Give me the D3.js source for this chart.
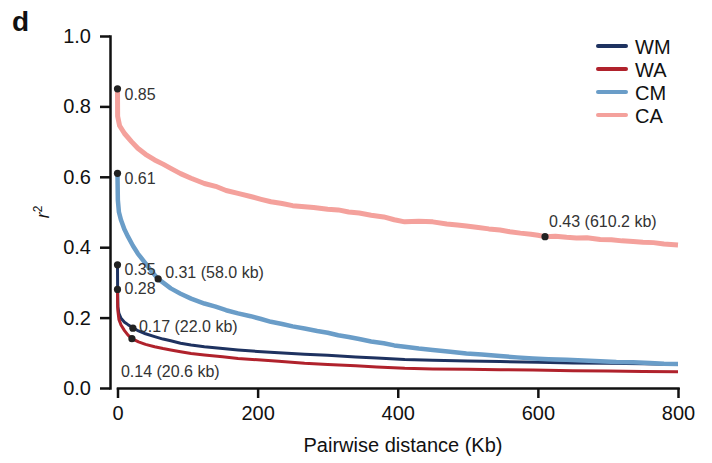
<!DOCTYPE html>
<html>
<head>
<meta charset="utf-8">
<script src="https://cdnjs.cloudflare.com/ajax/libs/d3/7.8.5/d3.min.js"></script>
<style>
	body { margin:0; background:#fff; }
	svg { display:block; font-family:"Liberation Sans", Arial, sans-serif; }
	.axis path, .axis line { stroke:#111; stroke-width:2.5px; }
	.axis text { font-size:20px; fill:#111; }
	.anno-label { font-size:16px; fill:#333; }
</style>
</head>
<body>
<svg id="LD_CHART" width="712" height="463"></svg>
<script>
// 시리즈 이름/색
var seriesNames = ["WM", "WA", "CM", "CA"];
var seriesColors = ["#1e3260", "#b0222c", "#6a9dc8", "#f4a19c"];

// distance (kb)
var kbWM = [0, 0.2, 0.5, 2, 5, 10, 15, 22, 30, 40, 53, 65, 76, 90, 105, 124, 150, 172, 200, 230, 267, 300, 340, 370, 410, 450, 500, 546, 600, 650, 700, 750, 800];
var r2WM = [0.345, 0.278, 0.231, 0.212, 0.198, 0.187, 0.180, 0.171, 0.162, 0.154, 0.146, 0.139, 0.134, 0.127, 0.122, 0.117, 0.112, 0.108, 0.104, 0.100, 0.096, 0.093, 0.088, 0.085, 0.081, 0.079, 0.077, 0.075, 0.073, 0.071, 0.070, 0.069, 0.067];

var kbWA = [0, 0.2, 0.5, 2, 5, 10, 15, 20.6, 30, 40, 53, 65, 76, 90, 105, 124, 150, 172, 200, 230, 267, 300, 340, 370, 410, 450, 500, 546, 593, 650, 700, 750, 800];
var r2WA = [0.28, 0.245, 0.22, 0.195, 0.179, 0.163, 0.150, 0.140, 0.131, 0.124, 0.117, 0.112, 0.108, 0.103, 0.098, 0.094, 0.089, 0.084, 0.080, 0.076, 0.070, 0.067, 0.063, 0.060, 0.056, 0.054, 0.053, 0.052, 0.051, 0.049, 0.048, 0.047, 0.046];

var kbCM = [0, 0.1, 0.5, 2, 5, 10, 15, 22, 29, 40, 50, 58, 68, 76, 90, 105, 124, 140, 155, 172, 190, 205, 219, 235, 250, 267, 285, 300, 315, 330, 345, 362, 380, 395, 410, 430, 450, 475, 498, 520, 546, 570, 593, 615, 641, 665, 689, 712, 736, 760, 780, 800];
var r2CM = [0.61, 0.59, 0.534, 0.50, 0.477, 0.45, 0.43, 0.404, 0.382, 0.354, 0.328, 0.31, 0.295, 0.283, 0.268, 0.254, 0.240, 0.231, 0.221, 0.212, 0.204, 0.196, 0.188, 0.182, 0.175, 0.169, 0.162, 0.157, 0.150, 0.145, 0.139, 0.132, 0.127, 0.121, 0.117, 0.112, 0.108, 0.103, 0.098, 0.095, 0.091, 0.087, 0.084, 0.082, 0.080, 0.078, 0.076, 0.074, 0.073, 0.071, 0.069, 0.068];

var kbCA = [0, 0.2, 3, 10, 20, 29, 40, 53, 65, 76, 90, 105, 124, 140, 155, 172, 190, 205, 219, 235, 250, 267, 280, 300, 315, 330, 345, 362, 380, 395, 410, 430, 450, 470, 485, 498, 515, 530, 546, 560, 575, 590, 600, 610.2, 625, 641, 655, 670, 689, 705, 720, 736, 750, 765, 780, 800];
var r2CA = [0.85, 0.772, 0.745, 0.723, 0.700, 0.681, 0.664, 0.648, 0.636, 0.624, 0.609, 0.596, 0.581, 0.573, 0.561, 0.553, 0.544, 0.536, 0.529, 0.524, 0.518, 0.515, 0.513, 0.508, 0.506, 0.500, 0.497, 0.491, 0.486, 0.478, 0.472, 0.474, 0.472, 0.466, 0.463, 0.460, 0.456, 0.452, 0.449, 0.444, 0.440, 0.437, 0.434, 0.430, 0.431, 0.428, 0.426, 0.427, 0.422, 0.421, 0.418, 0.416, 0.414, 0.413, 0.409, 0.406];

// 표시된 점들
var annoKb = [0, 0, 0, 0, 58.0, 22.0, 20.6, 610.2];
var annoR2 = [0.85, 0.61, 0.35, 0.28, 0.31, 0.17, 0.14, 0.43];
var annoText = ["0.85", "0.61", "0.35", "0.28", "0.31 (58.0 kb)", "0.17 (22.0 kb)", "0.14 (20.6 kb)", "0.43 (610.2 kb)"];

var xTicks = [0, 200, 400, 600, 800];
var yTicks = [0, 0.2, 0.4, 0.6, 0.8, 1.0];

function drawChart(){
	var svg = d3.select("#LD_CHART");

	var x = d3.scaleLinear().domain([0, 800]).range([117.5, 678]);
	var y = d3.scaleLinear().domain([0, 1]).range([388, 36]);

	svg.append("rect").attr("width", 712).attr("height", 463).attr("fill", "#fff");

	// y axis
	svg.append("g")
		.attr("class", "axis")
		.attr("transform", "translate(110,0)")
		.call(d3.axisLeft(y).tickValues(yTicks).tickFormat(d3.format(".1f")).tickSize(10).tickPadding(9).tickSizeOuter(0));

	// x axis
	svg.append("g")
		.attr("class", "axis")
		.attr("transform", "translate(0,388)")
		.call(d3.axisBottom(x).tickValues(xTicks).tickSize(10).tickPadding(8).tickSizeOuter(0));

	svg.selectAll(".axis .domain").attr("stroke-linecap", "square");

	// lines
	var series = [
		{ kb: kbWM, r2: r2WM, w: 3 },
		{ kb: kbWA, r2: r2WA, w: 3 },
		{ kb: kbCM, r2: r2CM, w: 4.5 },
		{ kb: kbCA, r2: r2CA, w: 5 }
	];
	var line = d3.line()
		.x(function(d){ return x(d[0]); })
		.y(function(d){ return y(d[1]); });

	series.forEach(function(s, i){
		var pts = s.kb.map(function(k, j){ return [k, s.r2[j]]; });
		svg.append("path")
			.attr("d", line(pts))
			.attr("fill", "none")
			.attr("stroke", seriesColors[i])
			.attr("stroke-width", s.w)
			.attr("stroke-linejoin", "round");
	});

	// annotation dots + labels
	var labelOffsets = [[7, 11], [7, 11], [7, 10.5], [7, 5], [7, -1], [6, 4], [-11, 38], [4, -10]];
	annoKb.forEach(function(k, i){
		svg.append("circle")
			.attr("cx", x(k)).attr("cy", y(annoR2[i]))
			.attr("r", 3.6)
			.attr("fill", "#222");
		svg.append("text")
			.attr("class", "anno-label")
			.attr("x", x(k) + labelOffsets[i][0])
			.attr("y", y(annoR2[i]) + labelOffsets[i][1])
			.text(annoText[i]);
	});

	// legend
	var legend = svg.append("g").attr("transform", "translate(598,46)");
	seriesNames.forEach(function(name, i){
		var g = legend.append("g").attr("transform", "translate(0," + (i * 23) + ")");
		g.append("line")
			.attr("x1", 0).attr("x2", 28)
			.attr("stroke", seriesColors[i])
			.attr("stroke-width", 4)
			.attr("stroke-linecap", "round");
		g.append("text")
			.attr("x", 37).attr("y", 7.5)
			.style("font-size", "20px")
			.attr("fill", "#111")
			.text(name);
	});

	// axis titles
	svg.append("text")
		.attr("x", 403).attr("y", 452)
		.attr("text-anchor", "middle")
		.style("font-size", "20px")
		.attr("fill", "#111")
		.text("Pairwise distance (Kb)");

	var yt = svg.append("text")
		.attr("transform", "translate(49,212) rotate(-90)")
		.attr("text-anchor", "middle")
		.style("font-size", "18px")
		.attr("fill", "#111");
	yt.append("tspan").style("font-style", "italic").text("r");
	yt.append("tspan").attr("dy", -7).style("font-size", "12px").text("2");

	// panel letter
	svg.append("text")
		.attr("x", 12).attr("y", 31)
		.style("font-size", "28px")
		.style("font-weight", "bold")
		.attr("fill", "#111")
		.text("d");
}
drawChart();
</script>
</body>
</html>
